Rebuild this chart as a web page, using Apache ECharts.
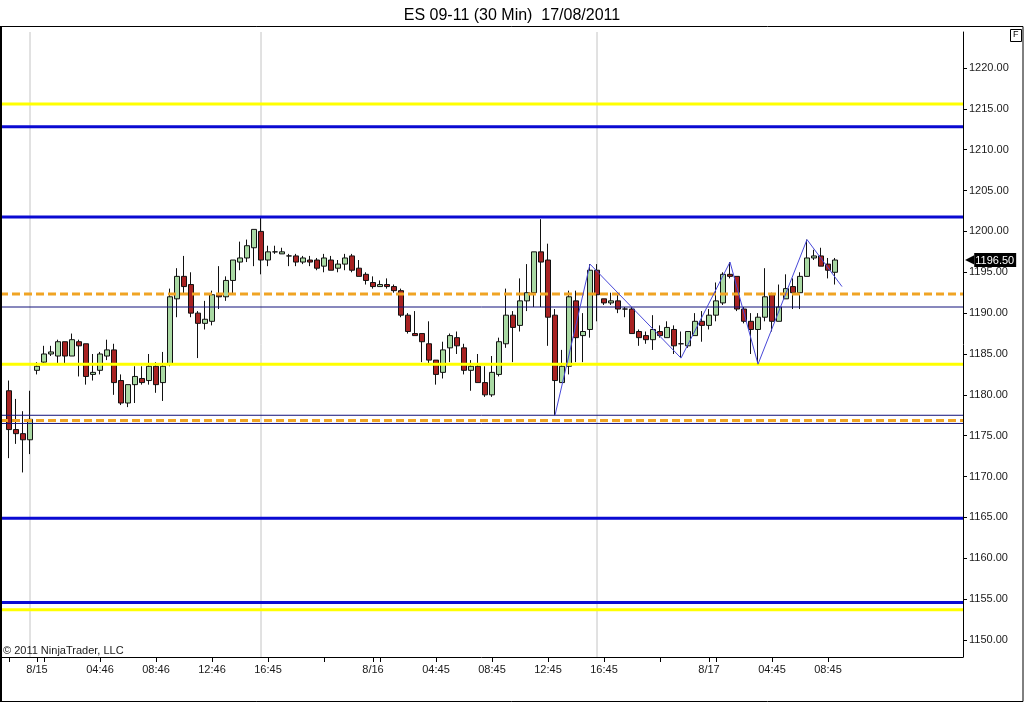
<!DOCTYPE html>
<html>
<head>
<meta charset="utf-8">
<script src="https://cdn.jsdelivr.net/npm/echarts@6/dist/echarts.min.js"></script>
<style>
html,body{margin:0;padding:0;background:#fff;}
#c{width:1024px;height:703px;}
</style>
</head>
<body>
<div id="c"></div>
<script>
// ---- data (30-min bars, ES 09-11) ----
const opens  = [1180.5,1175.75,1175.25,1174.5,1183,1184,1185,1184.75,1186.5,1184.75,
1186.5,1186.25,1182.5,1183,1184.75,1185.5,1181.75,1179,1181.25,1182,
1181.75,1183.5,1181.5,1183.75,1191.75,1194.5,1193.5,1190,1188.75,1189,
1192.25,1192,1194,1196.25,1196.75,1198,1200,1196.5,1197.5,1197.25,
1197,1197,1196.25,1196.5,1196.5,1195.75,1196.5,1195.5,1196,1197,
1195.5,1194.75,1193.75,1193.25,1193.5,1193.25,1192.75,1189.75,1187.5,1187.5,
1186.25,1184.25,1182.75,1185.75,1187,1185.75,1183,1183.5,1181.5,1180,
1182.5,1186.25,1189.75,1188.5,1191.5,1192.5,1197.5,1196.5,1189.75,1181.5,
1183.5,1191.5,1187.25,1188,1195.25,1191.75,1191.25,1191.5,1190.5,1190.5,
1187.75,1187.25,1186.75,1187.75,1187,1188,1186.25,1186,1187.25,1189,
1188.5,1189.75,1191.25,1194.75,1194.5,1190.5,1189,1188,1189.5,1192.25,
1189,1191.75,1193.25,1192.5,1194.5,1196.75,1197,1196,1195];
const highs  = [1181.75,1179.5,1178,1180.5,1184,1186,1186,1186.75,1186.5,1187.5,
1186.75,1186.25,1185,1185.25,1186.75,1186.25,1182.5,1181.25,1183.5,1183.5,
1185,1184,1185.25,1193,1195.5,1197,1195,1190.25,1191.5,1192.75,
1195.75,1194.5,1196.5,1198.75,1199,1200.25,1201.75,1198.25,1198.25,1198,
1197.25,1197.25,1197,1197,1196.75,1197.25,1197,1196.5,1197.25,1197.25,
1196.5,1195,1194.5,1194,1194.25,1193.5,1193,1190,1190.25,1187.5,
1189,1184.25,1186.5,1187.5,1187.75,1186.25,1184.25,1185,1183.5,1184.75,
1187,1193,1190.25,1194.25,1196,1197.5,1201.5,1198.5,1190.5,1185.5,
1192.75,1192.75,1190,1196,1196,1191.75,1192.5,1192.25,1190.75,1190.75,
1188,1187.75,1189.75,1188.5,1189,1188.5,1187.75,1187.75,1190,1190.25,
1190.5,1193.75,1195,1196.25,1194.5,1190.75,1190,1190,1195.5,1192.5,
1193.5,1194.75,1194.25,1195,1199,1197.75,1198,1196.75,1196.75];
const lows   = [1172.25,1174,1170.5,1172.75,1182.5,1183.75,1184.75,1183.75,1183.75,1184.75,
1182.25,1181.25,1181.75,1182.5,1184.25,1180,1178.75,1178.5,1179,1181.25,
1181.25,1180.25,1179.25,1183.5,1189.5,1192.25,1189.5,1184.5,1188,1188.5,
1190.5,1191.5,1192.25,1195.25,1196.25,1195.75,1194.75,1195.75,1197.25,1197.25,
1195.75,1195.75,1196,1195.75,1195.25,1195,1195.25,1195,1195.25,1195,
1194.5,1193.5,1193,1193.25,1193,1192.5,1189.5,1187.5,1187.25,1184,
1183.75,1181.25,1182,1184,1185,1182.5,1180.5,1181.5,1179.75,1179.75,
1182.25,1185.75,1184,1187.75,1190.25,1190.75,1190.75,1186,1177.5,1181.5,
1182.5,1184,1184,1187,1189,1191,1191,1190,1189.5,1187.5,
1186,1186.25,1185.5,1187,1187,1185,1184.5,1185.75,1187.25,1186.5,
1188,1189,1191,1194.25,1190.25,1188.75,1185,1183.75,1189,1187.75,
1189,1191.75,1190.5,1190.5,1194.5,1196.5,1195.75,1194.25,1193.5];
const closes = [1175.75,1175.25,1174.5,1177,1183.5,1185,1185.25,1186.5,1184.75,1186.75,
1186,1182.25,1182.75,1185,1185.5,1181.5,1179,1181.25,1182.25,1181.5,
1183.5,1181.25,1183.5,1192,1194.5,1193.25,1190,1188.75,1189.25,1192.25,
1192,1194,1196.5,1196.75,1198.25,1200.25,1196.5,1197.5,1197.5,1197.5,
1197,1196.25,1196.75,1196.25,1195.5,1196.75,1195.25,1196,1196.75,1195.25,
1194.5,1194,1193.25,1193.5,1193.25,1192.75,1189.75,1187.75,1187.25,1186.5,
1184.25,1182.5,1185.5,1187.25,1186,1183,1183.5,1181.5,1180,1182.75,
1186.5,1189.75,1188.25,1191.5,1192.5,1197.5,1196.25,1189.5,1181.75,1183.5,
1192,1187,1187.75,1195.25,1192.25,1191.25,1191.5,1190.5,1190.5,1187.5,
1187,1186.75,1188,1187.25,1188.25,1186,1186.25,1187.75,1189,1188.5,
1189.75,1191.5,1194.75,1194.5,1190.5,1189,1188,1189.5,1192,1189,
1190.75,1193,1192.5,1194.5,1196.75,1197,1195.75,1195.25,1196.5];

// x-axis tick positions (bar index) and labels
const tickIdx    = [0,4,5,13,21,29,37,45,52,53,61,69,77,85,93,100,101,109,117];
const labelIdx   = [4,13,21,29,37,52,61,69,77,85,100,109,117];
const labelText  = ['8/15','04:46','08:46','12:46','16:45','8/16','04:45','08:45','12:45','16:45','8/17','04:45','08:45'];
const sessionIdx = [3,36,84];

// price axis
const yTicks = [1150,1155,1160,1165,1170,1175,1180,1185,1190,1195,1200,1205,1210,1215,1220];
const lastPrice = 1196.5;

// drawn levels
const yellowLevels = [1215.6,1183.75,1153.7];
const blueLevels   = [1212.8,1201.75,1164.9,1154.6];
const orangeLevels = [1192.35,1176.85];
const navyLevels   = [1190.75,1177.5,1176.5];

// zigzag swing points
const zigIdx = [78,83,96,103,107,114,119];
const zigVal = [1177.5,1196,1184.5,1196.25,1183.75,1199,1193.25];

// ---- chart ----
const FONT = "'Liberation Sans', Arial, sans-serif";
const plotLeft = 0, plotRight = 963, plotTop = 32, plotBottom = 657;
const firstBarX = 9, barStep = 7;
const xMin = (plotLeft - firstBarX) / barStep;
const xMax = (plotRight - firstBarX) / barStep;
const pxPerPt = 8.171;       // vertical scale
const yMax = 1220 + (68 - plotTop) / pxPerPt;
const yMin = yMax - (plotBottom - plotTop) / pxPerPt;

const candleData = opens.map((o, i) => [i, o, closes[i], lows[i], highs[i]]);
const labelMap = {};
labelIdx.forEach((v, k) => labelMap[v] = labelText[k]);

function levelSeries(vals, style) {
  return vals.map(v => ({
    type: 'line', data: [[xMin, v], [xMax, v]], symbol: 'none', silent: true,
    lineStyle: style, z: 4, animation: false
  }));
}

const series = [];
sessionIdx.forEach(i => series.push({
  type: 'line', data: [[i, yMin], [i, yMax]], symbol: 'none', silent: true,
  lineStyle: {color: '#c4c4c4', width: 1}, z: 1, animation: false
}));
series.push({
  type: 'candlestick', data: candleData, encode: {x: 0, y: [1, 2, 3, 4]},
  barWidth: 5, z: 2, animation: false,
  itemStyle: {color: '#a9d9a3', color0: '#a82222', borderColor: '#111', borderColor0: '#111',
              borderColorDoji: '#111', borderWidth: 1}
});
series.push(...levelSeries(yellowLevels, {color: '#ffff00', width: 3}));
series.push(...levelSeries(blueLevels, {color: '#0a0ad2', width: 3}));
series.push(...levelSeries(orangeLevels, {color: '#f0a424', width: 3, type: [8, 4]}));
series.push(...levelSeries(navyLevels, {color: '#10107a', width: 1}));
series.push({
  type: 'line', data: zigIdx.map((x, k) => [x, zigVal[k]]), symbol: 'none', silent: true,
  lineStyle: {color: '#4848d8', width: 1}, z: 5, animation: false
});

const chart = echarts.init(document.getElementById('c'), null, {renderer: 'canvas'});
chart.setOption({
  animation: false,
  backgroundColor: '#fff',
  textStyle: {fontFamily: FONT},
  title: {
    text: 'ES 09-11 (30 Min)  17/08/2011', left: 'center', top: 3,
    textStyle: {fontFamily: FONT, fontSize: 16, fontWeight: 'normal', color: '#000'}
  },
  grid: {left: plotLeft, top: plotTop, width: plotRight - plotLeft, height: plotBottom - plotTop, containLabel: false},
  xAxis: {
    type: 'value', min: xMin, max: xMax,
    axisLine: {show: true, onZero: false, lineStyle: {color: '#000', width: 1}},
    axisTick: {show: true, customValues: tickIdx, length: 5, lineStyle: {color: '#000'}},
    axisLabel: {show: true, customValues: labelIdx, margin: 7, fontSize: 11, color: '#1a1a1a', fontFamily: FONT,
      formatter: v => labelMap[v] || ''},
    splitLine: {show: false}
  },
  yAxis: {
    type: 'value', position: 'right', min: yMin, max: yMax,
    axisLine: {show: true, onZero: false, lineStyle: {color: '#000', width: 1}},
    axisTick: {show: true, customValues: yTicks, length: 4, lineStyle: {color: '#000'}},
    axisLabel: {show: true, customValues: yTicks.concat([lastPrice]), margin: 2, fontSize: 11, color: '#1a1a1a', fontFamily: FONT,
      formatter: v => v === lastPrice ? '{arr|◀}{tag|' + v.toFixed(2) + '}' : '{n|' + v.toFixed(2) + '}',
      rich: {
        n: {fontSize: 11, color: '#1a1a1a', fontFamily: FONT, padding: [0, 0, 0, 4]},
        arr: {fontSize: 12, color: '#000', fontFamily: 'DejaVu Sans', padding: [0, 0, 0, 0], lineHeight: 16},
        tag: {fontSize: 11, color: '#fff', backgroundColor: '#000', fontFamily: FONT, padding: [2, 2, 1, 1], lineHeight: 14}
      }},
    splitLine: {show: false}
  },
  graphic: [
    {type: 'rect', shape: {x: 0.5, y: 26.5, width: 1022.5, height: 675}, style: {fill: 'none', stroke: '#000', lineWidth: 1}, silent: true, z: 10},
    {type: 'rect', shape: {x: 0, y: 26, width: 2, height: 676}, style: {fill: '#000'}, silent: true, z: 10},
    {type: 'rect', shape: {x: 1010.5, y: 29.5, width: 11, height: 12}, style: {fill: '#fff', stroke: '#000', lineWidth: 1}, silent: true, z: 10},
    {type: 'text', x: 1013, y: 30.5, style: {text: 'F', font: '9px ' + FONT, fill: '#000'}, silent: true, z: 11},
    {type: 'text', x: 3, y: 645, style: {text: '© 2011 NinjaTrader, LLC', font: '11px ' + FONT, fill: '#1a1a1a'}, silent: true, z: 11}
  ],
  series: series
});
</script>
</body>
</html>
